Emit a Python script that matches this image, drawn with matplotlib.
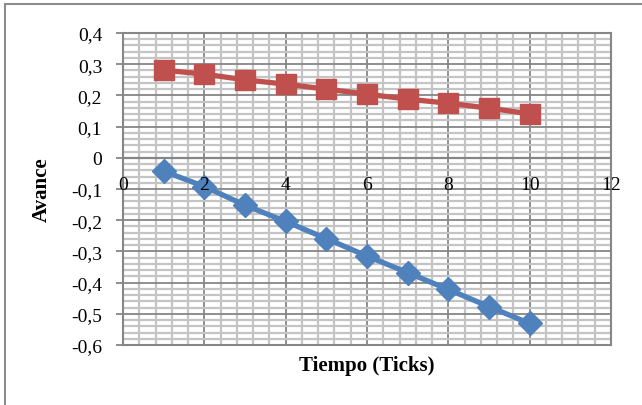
import numpy as np
import matplotlib
matplotlib.use("Agg")
from matplotlib import pyplot as plt
from matplotlib.ticker import MultipleLocator, FuncFormatter, NullFormatter
from matplotlib.patches import Rectangle

ticks = [1, 2, 3, 4, 5, 6, 7, 8, 9, 10]
serie_roja = [0.281, 0.268, 0.250, 0.236, 0.220, 0.204, 0.188, 0.175, 0.159, 0.141]
serie_azul = [-0.043, -0.092, -0.152, -0.204, -0.259, -0.315, -0.368, -0.422, -0.477, -0.531]
etiquetas_x = [0, 2, 4, 6, 8, 10, 12]

AZUL = "#4F81BD"
ROJO = "#C0504D"
GRIS = "#868686"
GRIS_CLARO = "#C4C4C4"

plt.rcParams['font.family'] = ['Liberation Serif', 'DejaVu Serif']

fig = plt.figure(figsize=(6.42, 4.06), dpi=100)
ax = fig.add_axes([123/642, 1-346/406, 488/642, 312/406])

# marco del grafico
fig.patches.append(Rectangle((5/642, -0.2), 2, 1.2 - 5/406, transform=fig.transFigure,
                             fill=False, edgecolor="#8C8C8C", lw=1.5))

ax.set_xlim(0, 12)
ax.set_ylim(-0.6, 0.4)
ax.xaxis.set_major_locator(MultipleLocator(2))
ax.xaxis.set_minor_locator(MultipleLocator(0.4))
ax.yaxis.set_major_locator(MultipleLocator(0.1))
ax.yaxis.set_minor_locator(MultipleLocator(0.02))

def coma(v, pos=None):
    v = round(v, 1) + 0.0
    return f"{v:g}".replace(".", ",")

ax.xaxis.set_major_formatter(NullFormatter())
ax.yaxis.set_major_formatter(FuncFormatter(coma))

ax.set_axisbelow(True)
ax.grid(which="minor", color=GRIS_CLARO, lw=1.6)
ax.grid(which="major", color=GRIS, lw=1.3)

for s in ['left', 'top', 'right', 'bottom']:
    ax.spines[s].set_color(GRIS)
    ax.spines[s].set_linewidth(1.5)
# eje x en cero
ax.axhline(0, color=GRIS, lw=1.6, zorder=1)

ax.tick_params(axis='x', which='both', length=0)
ax.tick_params(axis='y', which='major', length=5, color=GRIS, width=1.3, pad=10, labelsize=14)
ax.tick_params(axis='y', which='minor', length=0)

# etiquetas del eje x debajo de la linea de cero
for v in etiquetas_x:
    ax.annotate(coma(v), (v, 0), xytext=(0, -19), textcoords='offset points',
                ha='center', va='center', fontsize=14, zorder=5)

ax.plot(ticks, serie_azul, color=AZUL, lw=3.8, marker='D', markersize=12, zorder=3)
ax.plot(ticks, serie_roja, color=ROJO, lw=3.8, marker='s', markersize=14, zorder=3)

ax.set_xlabel("Tiempo (Ticks)", fontsize=15, fontweight='bold')
ax.set_ylabel("Avance", fontsize=15, fontweight='bold')
ax.xaxis.set_label_coords(0.5, (346-356)/312)
ax.yaxis.set_label_coords((52-123)/488, 0.5)

fig.savefig("out.png", dpi=100)
